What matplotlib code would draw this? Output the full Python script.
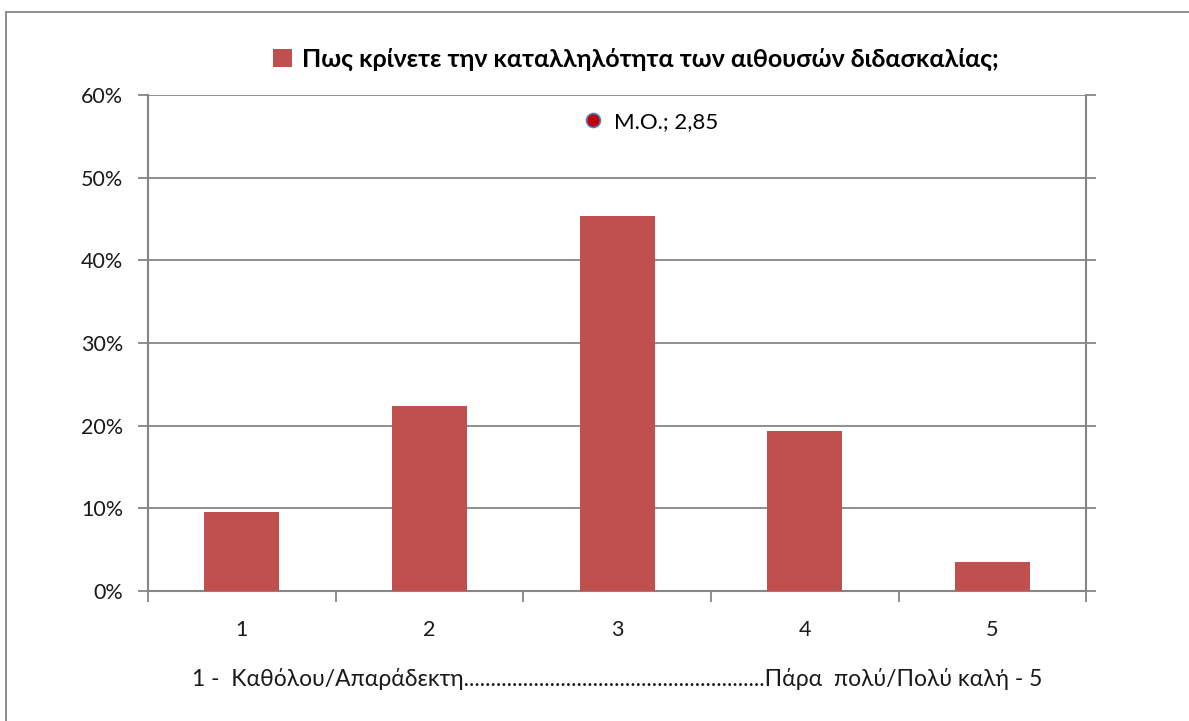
import matplotlib
matplotlib.use("Agg")
import matplotlib.pyplot as plt
from matplotlib.lines import Line2D
from matplotlib.patches import Rectangle, Patch
from matplotlib.ticker import FuncFormatter

categories = ["1", "2", "3", "4", "5"]
values = [9.5, 22.4, 45.3, 19.3, 3.5]
series_label = "Πως κρίνετε την καταλληλότητα των αιθουσών διδασκαλίας;"
mean_label = "M.O.; 2,85"
y_ticks = [0, 10, 20, 30, 40, 50, 60]
x_title = "1 -  Καθόλου/Απαράδεκτη" + "." * 56 + "Πάρα  πολύ/Πολύ καλή - 5"

plt.rcParams['font.family'] = ['Lato', 'DejaVu Sans']

GRAY = "#868686"
BAR = "#C0504D"

fig = plt.figure(figsize=(11.89, 7.21), dpi=100)
fig.patches.append(Rectangle((0.005, -0.1), 1.2, 0.9827 + 0.1, transform=fig.transFigure,
                             fill=False, edgecolor=GRAY, linewidth=1.3, zorder=0))

ax = fig.add_axes([0.1245, 0.1803, 0.789, 0.688])
x = list(range(len(categories)))
ax.bar(x, values, width=0.4, color=BAR, zorder=3)

ax.set_xlim(-0.5, len(categories) - 0.5)
ax.set_ylim(0, 60)
ax.set_yticks(y_ticks)
ax.yaxis.set_major_formatter(FuncFormatter(lambda v, p: f"{int(v)}%"))
ax.grid(axis='y', color=GRAY, linewidth=1.3, zorder=1)

ax.set_xticks(x)
ax.set_xticklabels(categories, fontsize=15.5, color="#1a1a1a")
ax.set_xticks([i + 0.5 for i in range(-1, len(categories))], minor=True)
ax.tick_params(axis='x', which='major', length=0, pad=21)
ax.tick_params(axis='x', which='minor', length=8, width=1.3, color=GRAY, direction='out')
ax.tick_params(axis='y', length=7, width=1.3, color=GRAY, direction='out', labelsize=15.5,
               labelcolor="#1a1a1a", pad=11, right=True)

for s in ['left', 'bottom', 'right']:
    ax.spines[s].set_color(GRAY)
    ax.spines[s].set_linewidth(1.5)
ax.spines['top'].set_visible(False)

ax.set_xlabel(x_title, fontsize=16.5, color="#1a1a1a", labelpad=20)

fig.legend(handles=[Patch(facecolor=BAR, edgecolor='none')], labels=[series_label],
           loc='center', bbox_to_anchor=(0.535, 0.918), frameon=False,
           prop={'weight': 'bold', 'size': 18}, handlelength=0.75, handleheight=0.75,
           handletextpad=0.4)

mean_handle = Line2D([], [], linestyle='none', marker='o', markersize=10,
                     markerfacecolor='#C00000', markeredgecolor='#4F81BD', markeredgewidth=1.2)
ax.legend(handles=[mean_handle], labels=[mean_label], loc='center',
          bbox_to_anchor=(0.547, 0.831), bbox_transform=fig.transFigure, frameon=False,
          fontsize=16, handlelength=0.9, handletextpad=0.5)

fig.savefig("out.png", dpi=100)
